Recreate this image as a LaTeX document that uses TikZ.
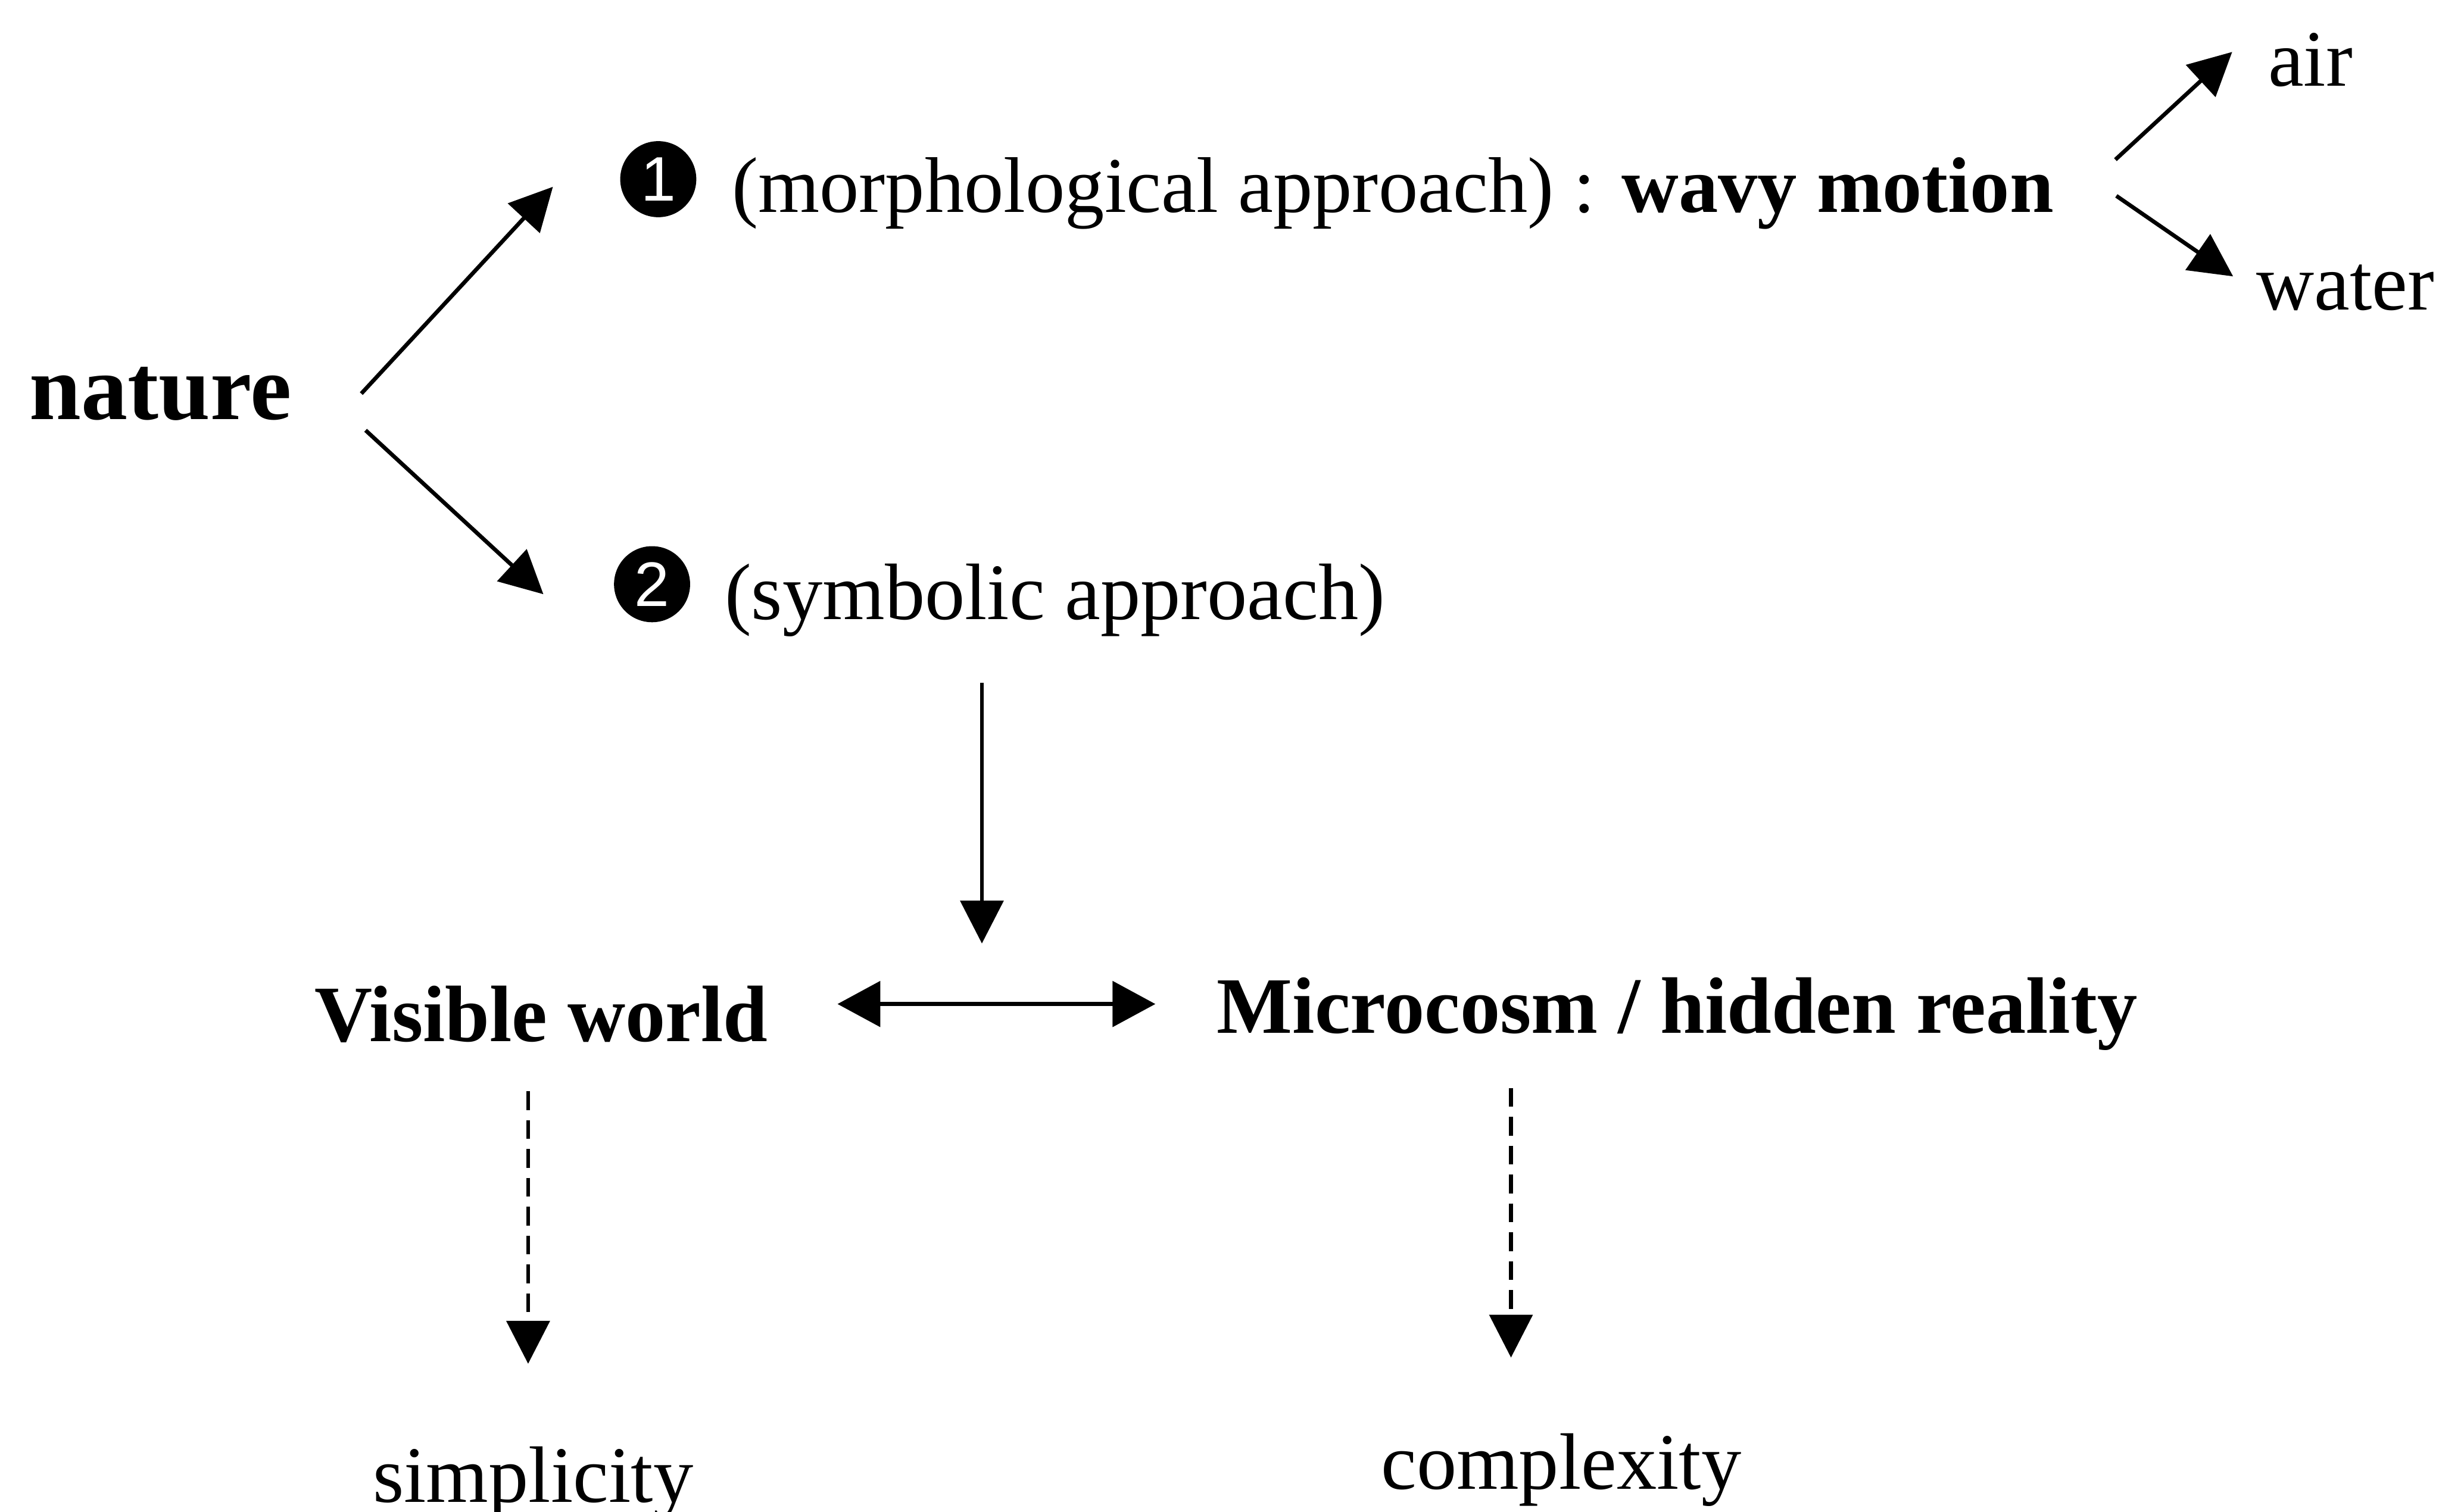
\documentclass[tikz,border=0pt]{standalone}
\usepackage{fontspec}
\setmainfont{Liberation Serif}
\setsansfont{Liberation Sans}
\usetikzlibrary{arrows.meta}

\tikzset{
    txt/.style={anchor=base west, inner sep=0pt, font=\fontsize{14}{16}\selectfont},
    numdot/.style={circle, fill=black, text=white, inner sep=0pt, minimum size=13.3pt,
        font=\sffamily\fontsize{11}{12}\selectfont},
    arr/.style={-{Triangle[length=7.5pt, width=7.5pt]}, line width=0.7pt},
    dasharr/.style={arr, dash pattern=on 3.3pt off 1.75pt},
    twoarr/.style={{Triangle[length=7.5pt, width=7.9pt]}-{Triangle[length=7.5pt, width=7.9pt]}, line width=0.8pt}
}

\begin{document}
\begin{tikzpicture}[x=8.3333pt, y=-8.3333pt]
    \useasboundingbox (0,0) rectangle (51.17,31.73);

    % Root
    \node[txt, font=\bfseries\fontsize{16.25}{18}\selectfont] (nature) at (0.60,8.80) {nature};

    % Two approaches
    \node[numdot] (one) at (13.81,3.76) {1};
    \node[txt, font=\fontsize{13.8}{16}\selectfont] (morph) at (15.33,4.45) {(morphological approach) : \textbf{wavy motion}};
    \node[numdot] (two) at (13.68,12.26) {2};
    \node[txt] (symb) at (15.18,13.00) {(symbolic approach)};

    % Wavy motion
    \node[txt] (air) at (47.56,1.81) {air};
    \node[txt] (water) at (47.32,6.50) {water};

    % Two worlds
    \node[txt, font=\bfseries\fontsize{14}{16}\selectfont] (visible) at (6.58,21.85) {Visible world};
    \node[txt, font=\bfseries\fontsize{14}{16}\selectfont] (micro) at (25.51,21.68) {Microcosm / hidden reality};
    \node[txt] (simple) at (7.80,31.53) {simplicity};
    \node[txt] (complex) at (28.95,31.25) {complexity};

    % Arrow ends
    \coordinate (natA) at (7.58,8.26);
    \coordinate (natB) at (7.67,9.03);
    \coordinate (oneIn) at (11.60,3.92);
    \coordinate (twoIn) at (11.40,12.47);
    \coordinate (motA) at (44.38,3.35);
    \coordinate (motB) at (44.40,4.11);
    \coordinate (airIn) at (46.83,1.09);
    \coordinate (waterIn) at (46.85,5.80);
    \coordinate (symbOut) at (20.60,14.33);
    \coordinate (worldsIn) at (20.60,19.80);
    \coordinate (visR) at (17.57,21.07);
    \coordinate (micL) at (24.24,21.07);
    \coordinate (visOut) at (11.08,22.90);
    \coordinate (simpIn) at (11.08,28.62);
    \coordinate (micOut) at (31.70,22.83);
    \coordinate (compIn) at (31.70,28.49);

    % Arrows
    \draw[arr] (natA) -- (oneIn);
    \draw[arr] (natB) -- (twoIn);
    \draw[arr] (motA) -- (airIn);
    \draw[arr] (motB) -- (waterIn);
    \draw[arr] (symbOut) -- (worldsIn);
    \draw[twoarr] (visR) -- (micL);

    % Dashed consequences
    \draw[dasharr] (visOut) -- (simpIn);
    \draw[dasharr] (micOut) -- (compIn);
\end{tikzpicture}
\end{document}
